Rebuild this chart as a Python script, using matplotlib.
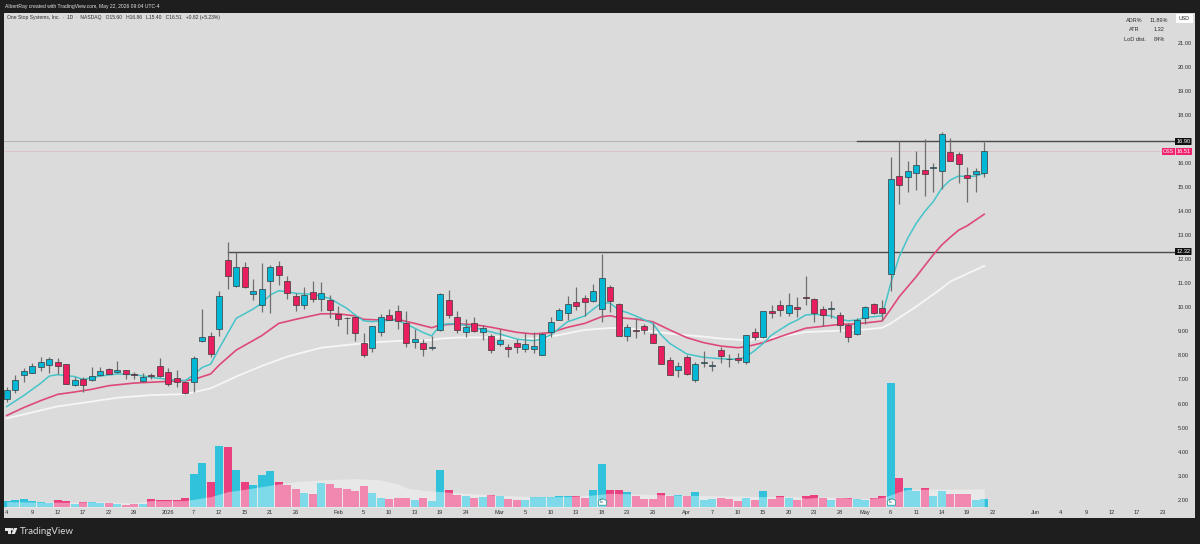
import matplotlib
matplotlib.use("Agg")
import matplotlib.pyplot as plt
import matplotlib.patches as patches
from matplotlib.path import Path
import numpy as np

# =================================================================================
# Data
# =================================================================================
opens = [6.17,6.56,7.17,7.28,7.52,7.61,7.71,7.63,6.77,7.00,
         6.98,7.17,7.45,7.30,7.39,7.21,6.95,7.17,7.56,7.32,
         7.06,6.89,6.91,8.58,8.82,9.11,11.97,10.90,11.66,10.54,
         10.08,11.08,11.70,11.11,10.48,10.11,10.62,10.35,10.30,9.72,
         9.57,9.58,8.50,8.29,8.97,9.67,9.83,9.36,8.57,8.53,
         8.31,9.04,10.29,9.58,8.99,9.33,8.96,8.82,8.49,8.35,
         8.52,8.28,8.28,8.03,8.99,9.49,9.76,10.22,10.39,10.25,
         9.92,10.83,10.15,8.81,9.06,9.21,8.88,8.38,7.79,7.38,
         7.95,6.96,7.67,7.57,8.24,7.86,7.89,7.73,8.99,8.77,
         9.85,10.11,9.76,10.03,10.43,10.33,9.94,9.92,9.68,9.28,
         8.90,9.54,10.15,9.99,11.40,15.45,15.40,15.60,15.70,15.81,
         15.65,16.46,16.36,15.51,15.56,15.60]
closes = [6.56,6.98,7.37,7.56,7.74,7.84,7.56,6.82,6.96,6.77,
          7.14,7.35,7.24,7.39,7.21,7.18,7.10,7.16,7.16,6.80,
          6.89,6.42,7.88,8.76,8.04,10.46,11.29,11.66,10.84,10.66,
          10.77,11.66,11.33,10.59,10.11,10.51,10.35,10.59,9.87,9.53,
          9.54,8.95,8.03,9.21,9.61,9.49,9.44,8.53,8.70,8.28,
          8.34,10.54,9.68,9.04,9.19,9.03,9.13,8.24,8.63,8.28,
          8.36,8.46,8.39,8.89,9.40,9.90,10.14,10.07,10.21,10.66,
          11.22,10.25,8.81,9.19,9.03,9.07,8.53,7.66,7.20,7.56,
          7.24,7.63,7.71,7.60,7.96,7.84,7.79,8.83,8.77,9.83,
          9.75,9.90,10.11,9.92,10.39,9.78,9.69,9.96,9.26,8.77,
          9.49,10.01,9.75,9.75,15.32,15.07,15.67,15.92,15.53,15.85,
          17.22,16.10,15.97,15.39,15.67,16.51]
highs = [6.70,7.19,7.46,7.67,7.92,7.95,7.88,7.64,7.09,7.09,
         7.53,7.53,7.48,7.75,7.41,7.32,7.25,7.28,7.88,7.46,
         7.39,6.92,7.97,9.93,8.97,10.69,12.73,12.31,11.90,11.19,
         11.86,11.75,11.94,11.30,10.58,10.86,11.08,11.04,10.51,10.05,
         9.61,9.64,8.92,9.22,9.72,9.92,10.08,9.85,9.08,8.67,
         8.81,10.61,10.72,9.86,9.50,9.58,9.26,8.89,9.11,8.47,
         8.67,8.95,8.99,8.92,9.58,9.96,10.47,10.86,10.51,10.97,
         12.22,10.91,10.19,9.30,9.57,9.29,9.33,8.39,7.95,7.71,
         8.02,7.74,8.18,7.75,8.34,8.06,8.09,8.85,9.13,9.85,
         10.10,10.29,10.61,10.41,11.30,10.37,10.05,10.28,9.82,9.33,
         9.54,10.05,10.19,10.30,16.26,16.93,16.07,16.50,17.00,15.99,
         17.30,17.03,16.44,15.85,15.78,16.86]
lows = [6.08,6.45,6.88,7.25,7.37,7.28,7.23,6.80,6.74,6.49,
        6.95,7.14,7.21,7.27,7.02,7.02,6.88,7.00,7.12,6.73,
        6.69,6.38,6.49,8.56,7.95,8.82,10.75,10.83,10.82,10.30,
        9.82,9.75,10.93,10.33,9.86,9.93,10.21,9.86,9.54,9.22,
        8.90,8.60,7.95,8.15,8.81,9.47,9.10,8.36,8.29,7.97,
        8.22,9.00,9.55,8.92,8.78,8.97,8.64,8.09,8.39,7.95,
        8.09,8.15,8.11,8.00,8.78,9.47,9.47,9.89,9.64,10.22,
        9.40,9.82,8.79,8.61,8.71,8.89,8.50,7.64,7.17,7.09,
        7.18,6.89,7.50,7.37,7.70,7.53,7.70,7.64,8.64,8.74,
        9.54,9.64,9.64,9.61,10.10,9.40,9.24,9.57,8.99,8.57,
        8.85,9.31,9.71,9.47,10.69,14.28,14.81,14.88,14.63,14.78,
        14.91,16.10,15.15,14.36,14.81,15.40]

# volume in thousands (rough, the chart has no volume scale)
volumes = [200,220,250,190,160,130,220,200,110,160,
           150,140,120,90,70,100,90,240,220,210,
           220,280,1000,1340,770,1850,1810,1130,760,670,
           980,1100,770,670,540,440,410,720,690,570,
           540,490,640,430,290,240,270,290,210,290,
           180,1130,510,370,330,270,300,380,340,240,
           220,230,300,300,300,330,330,340,280,510,
           1300,510,520,460,340,250,260,430,340,370,
           350,450,230,240,290,260,200,280,220,490,
           250,350,280,230,350,360,280,230,270,270,
           240,230,270,330,3730,870,590,480,580,340,
           480,390,390,390,220,260]
vol_ma_idx = [0,3,7,11,15,17,21,22,24,26,28,30,32,34,37,41,44,46,47,49,51,54,58,62,66,69,71,74,78,
              82,86,89,93,94,96,98,100,103,104,105,106,115]
vol_ma = [170,160,150,170,130,200,200,240,320,470,540,620,700,770,820,860,820,700,580,510,470,420,
          360,320,320,370,420,400,370,350,340,320,320,270,310,300,260,290,370,470,540,550]

ema_fast_idx = [0,2,4,5,6,8,9,11,13,15,17,19,21,22,23,24,25,26,27,29,30,31,32,33,34,36,38,40,41,42,43,44,46,
                48,49,50,51,52,53,55,56,58,60,62,63,64,65,66,68,69,70,71,72,73,74,76,77,78,80,82,84,86,87,88,
                89,90,92,93,94,95,96,97,98,99,100,101,102,103,104,105,106,107,108,109,110,111,112,113,114,115]
ema_fast = [5.87,6.33,6.84,7.14,7.20,7.12,7.00,7.14,7.23,7.20,7.09,7.00,6.95,7.19,7.50,7.64,8.29,8.92,9.54,
            9.93,10.17,10.51,10.69,10.65,10.58,10.54,10.37,9.96,9.68,9.44,9.40,9.44,9.47,
            9.13,8.95,8.81,9.26,9.32,9.31,9.17,9.06,8.89,8.68,8.61,8.69,8.85,9.13,9.40,9.64,9.92,10.19,10.17,
            9.89,9.78,9.64,9.33,8.85,8.50,8.06,7.92,7.86,7.84,7.95,8.20,8.50,8.85,9.30,9.47,9.68,9.71,9.68,
            9.64,9.50,9.44,9.47,9.58,9.61,9.65,10.99,12.10,12.87,13.49,13.98,14.39,14.95,15.29,15.46,15.43,15.46,15.57]
ema_mid_idx = [0,2,4,6,8,10,12,15,19,21,22,24,25,27,30,32,34,37,39,41,42,44,46,48,50,51,53,55,57,60,62,64,66,68,
               70,71,72,74,76,78,80,82,84,86,87,89,91,94,98,100,103,104,105,107,108,109,110,111,112,113,115]
ema_mid = [5.50,5.83,6.12,6.38,6.48,6.59,6.74,6.85,6.92,6.95,7.00,7.23,7.60,8.22,8.82,9.33,9.50,9.73,9.73,9.64,
           9.50,9.47,9.50,9.33,9.15,9.26,9.31,9.28,9.17,8.96,8.89,8.95,9.17,9.33,9.61,9.65,9.57,9.51,9.40,9.06,
           8.74,8.53,8.39,8.32,8.36,8.53,8.78,9.13,9.29,9.31,9.43,9.92,10.44,11.27,11.73,12.18,12.59,12.91,13.21,13.39,13.87]
ema_slow_idx = [0,3,6,10,13,17,21,24,27,30,33,37,41,44,46,50,51,53,56,58,60,63,65,68,71,73,76,79,82,84,87,89,91,94,
                98,101,103,104,107,110,111,115]
ema_slow = [5.38,5.63,5.88,6.08,6.24,6.35,6.39,6.63,7.12,7.56,7.95,8.32,8.47,8.56,8.60,8.64,8.70,8.74,8.75,8.76,
            8.68,8.71,8.85,9.06,9.14,9.13,8.99,8.87,8.78,8.70,8.63,8.70,8.78,8.97,9.03,9.08,9.15,9.33,10.03,10.79,11.07,11.72]

tick_idx = [0,3,6,9,12,15,19,22,25,28,31,34,39,42,45,48,51,54,58,61,64,67,70,73,76,80,83,86,89,92,
            95,98,101,104,107,110,113,116,121,124,127,130,133,136]
tick_labels = ["4","9","12","17","22","29","2026","7","12","15","21","26","Feb","5","10","13","19","24",
               "Mar","5","10","13","18","23","26","Apr","7","10","15","20","23","28","May","6","11","14",
               "19","22","Jun","4","9","12","17","23"]
# 17.00 sits behind the 16.90 tag in the original, so it is left out here
price_ticks = [2,3,4,5,6,7,8,9,10,11,12,13,14,15,16,18,19,20,21]
earnings_idx = [70, 104]
level_high = 16.90
level_low = 12.32
last_close = 16.51

# =================================================================================
# Layout / colors
# =================================================================================
W, H = 1200, 544
PANEL = (4, 12.5, 1195, 518.3)   # left, top, right, bottom in pixels
X0, DX = 6.7, 8.5                # pixel of first candle, pixels per candle
Y2, DY = 499.7, 24.05            # pixel of price 2.00, pixels per dollar
VOL_K_PER_PX = 30.0
VOL_BASE_PX = 507.3

DARK_BG = '#1e1e1e'
PANEL_BG = '#dbdbdb'
UP = '#00b8d6'
DOWN = '#e91e5e'
VOL_UP = '#2fc2da'
VOL_DOWN = '#ea4080'
EMA_FAST = '#45c4c9'
EMA_MID = '#dd4a78'
EMA_SLOW = '#f6f6f6'
TXT = '#2c2c2c'
FONT = 'Liberation Sans'

plt.rcParams['font.family'] = FONT

fig = plt.figure(figsize=(W / 100, H / 100), dpi=100, facecolor=DARK_BG)
ax = fig.add_axes([PANEL[0] / W, 1 - PANEL[3] / H, (PANEL[2] - PANEL[0]) / W, (PANEL[3] - PANEL[1]) / H])
ax.set_xlim((PANEL[0] - X0) / DX, (PANEL[2] - X0) / DX)
ax.set_ylim(2 + (Y2 - PANEL[3]) / DY, 2 + (Y2 - PANEL[1]) / DY)
for s in ax.spines.values():
    s.set_visible(False)

# volume lives on its own scale under the candles
ax_vol = ax.twinx()
ax_vol.set_ylim((VOL_BASE_PX - PANEL[3]) * VOL_K_PER_PX, (VOL_BASE_PX - PANEL[1]) * VOL_K_PER_PX)
ax_vol.axis('off')
ax_vol.set_zorder(1)
ax.set_zorder(2)
ax.patch.set_visible(False)
fig.patches.append(patches.Rectangle((PANEL[0] / W, 1 - PANEL[3] / H), (PANEL[2] - PANEL[0]) / W,
                                     (PANEL[3] - PANEL[1]) / H, transform=fig.transFigure,
                                     facecolor=PANEL_BG, edgecolor='none', zorder=-5))

idx = np.arange(len(opens))
is_up = np.array(closes) >= np.array(opens)

ax_vol.bar(idx, volumes, width=0.92, color=[VOL_UP if u else VOL_DOWN for u in is_up], linewidth=0, zorder=2)
ax_vol.fill_between(vol_ma_idx, 0, vol_ma, color='white', alpha=0.38, linewidth=0, zorder=3)

# horizontal levels
ax.plot([-1, 100], [level_high, level_high], color='#aeaeae', lw=0.6, zorder=1)
ax.plot([100, 137.4], [level_high, level_high], color='#4a4a4a', lw=1.0, zorder=1)
ax.plot([26, 137.4], [level_low, level_low], color='#4a4a4a', lw=1.0, zorder=1)
ax.plot([-1, 136], [last_close, last_close], color='#d9a5b0', lw=0.6, ls=(0, (1, 1)), zorder=1)

# moving averages
ax.plot(ema_slow_idx, ema_slow, color=EMA_SLOW, lw=1.3, zorder=2)
ax.plot(ema_mid_idx, ema_mid, color=EMA_MID, lw=1.2, zorder=2)
ax.plot(ema_fast_idx, ema_fast, color=EMA_FAST, lw=1.1, zorder=2)

# candles
for i in idx:
    ax.plot([i, i], [lows[i], highs[i]], color='#6e6e6e', lw=0.9, zorder=3, solid_capstyle='butt')
    bottom = min(opens[i], closes[i])
    height = abs(closes[i] - opens[i])
    body = patches.Rectangle((i - 0.36, bottom), 0.72, height, facecolor=UP if is_up[i] else DOWN,
                             edgecolor='#3a3a3a', lw=0.5, zorder=4)
    ax.add_patch(body)

# ticks sit inside the panel
ax.set_xticks(tick_idx)
ax.set_xticklabels(tick_labels)
ax.tick_params(axis='x', length=0, pad=-2.2, labelsize=4.1, labelcolor=TXT)
for lab in ax.get_xticklabels():
    lab.set_verticalalignment('bottom')
ax.yaxis.tick_right()
ax.set_yticks(price_ticks)
ax.set_yticklabels([f"{p:.2f}" for p in price_ticks])
ax.tick_params(axis='y', length=0, pad=-12.5, labelsize=4.1, labelcolor=TXT)

# earnings flags
flag = Path([(-1, -0.7), (1, -0.7), (1, 0.5), (0, 1), (-1, 0.5), (-1, -0.7)])
for i in earnings_idx:
    ax_vol.scatter([i], [(VOL_BASE_PX - 501.7) * VOL_K_PER_PX], marker=flag, s=32, facecolor='white',
                   edgecolor='#2f9e9a', linewidth=0.6, zorder=5)
    ax_vol.text(i, (VOL_BASE_PX - 501.7) * VOL_K_PER_PX, "E", fontsize=3.6, color='#2a7f7c', ha='center',
                va='center', zorder=6)

# overlay in pixel coordinates for the header, stats table, price tags and logo
ov = fig.add_axes([0, 0, 1, 1], facecolor='none', zorder=5)
ov.set_xlim(0, W)
ov.set_ylim(H, 0)
ov.axis('off')

ov.text(5, 6.2, "AlbertRay created with TradingView.com, May 22, 2026 09:04 UTC-4", fontsize=3.65,
        color='#e4e4e4', va='center')
ov.text(7, 17.3, "One Stop Systems, Inc.  ·  1D  ·  NASDAQ   O15.60   H16.86   L15.40   C16.51   +0.82 (+5.23%)",
        fontsize=3.6, color=TXT, va='center')

stats = [("ADR%", "11.89%", 20), ("ATR", "1.32", 29.7), ("LoD dist.", "84%", 39.7)]
for name, val, y in stats:
    ov.text(1134.7, y, name, fontsize=4, color=TXT, ha='center', va='center')
    ov.text(1159, y, val, fontsize=4, color=TXT, ha='center', va='center')

ov.add_patch(patches.Rectangle((1176, 14), 17, 9, facecolor='white', edgecolor='none'))
ov.text(1184.5, 18.5, "USD", fontsize=3.8, color=TXT, ha='center', va='center')

for price, yp in [(level_high, 141.5), (level_low, 251.5)]:
    ov.add_patch(patches.FancyBboxPatch((1175.5, yp - 3), 15.5, 6, boxstyle='round,pad=0.5', facecolor='#111111',
                                        edgecolor='none'))
    ov.text(1183.3, yp, f"{price:.2f}", fontsize=4.1, color='white', ha='center', va='center')

ov.add_patch(patches.Rectangle((1162, 148), 30, 6.5, facecolor='#f0246e', edgecolor='none'))
ov.add_patch(patches.Rectangle((1175.3, 148), 0.7, 6.5, facecolor='#f7a8c4', edgecolor='none'))
ov.text(1168.7, 151.3, "OSS", fontsize=3.8, color='white', ha='center', va='center')
ov.text(1184, 151.3, "16.51", fontsize=4.1, color='white', ha='center', va='center')

# TradingView logo
ov.add_patch(patches.Polygon([(5, 528), (10.6, 528), (10.6, 534), (8, 534), (8, 530.6), (5, 530.6)], facecolor='#e6e6e6',
                             edgecolor='none'))
ov.add_patch(patches.Circle((12.2, 529.3), 1.3, facecolor='#e6e6e6', edgecolor='none'))
ov.add_patch(patches.Polygon([(14.2, 528), (17.4, 528), (14.8, 534), (11.4, 534)], facecolor='#e6e6e6', edgecolor='none'))
ov.text(20.3, 531.2, "TradingView", fontsize=7, color='#d8d8d8', family='Lato', va='center')

fig.savefig("out.png", dpi=100, facecolor=fig.get_facecolor())
